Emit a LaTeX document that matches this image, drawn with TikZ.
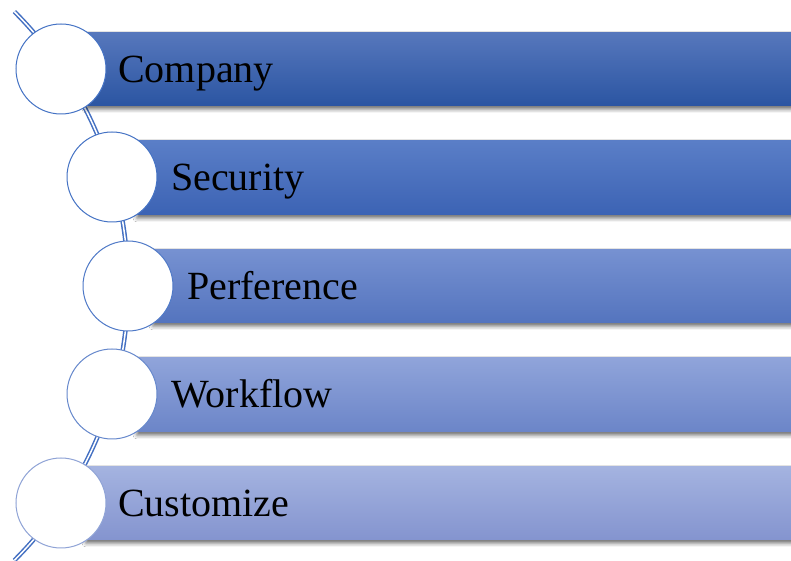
\documentclass[tikz,border=0pt]{standalone}
\usepackage{fontspec}
\setmainfont{Liberation Serif}
\usetikzlibrary{shadows.blur}

\definecolor{rimA}{HTML}{4472C4}
\definecolor{rimE}{HTML}{8FA3D6}
\definecolor{arcblue}{HTML}{4470C2}
\definecolor{t1}{HTML}{5677BC}\definecolor{b1}{HTML}{2B55A2}
\definecolor{t2}{HTML}{5A7EC7}\definecolor{b2}{HTML}{3C63B4}
\definecolor{t3}{HTML}{7691D1}\definecolor{b3}{HTML}{5474BE}
\definecolor{t4}{HTML}{90A4DA}\definecolor{b4}{HTML}{6B85C8}
\definecolor{t5}{HTML}{A4B3E0}\definecolor{b5}{HTML}{8494CF}

\tikzset{
  band/.style={draw=none, blur shadow={shadow xshift=0pt, shadow yshift=-3pt,
      shadow blur radius=4pt, shadow opacity=60}},
  disc/.style={circle, draw=#1, line width=1pt, fill=white, minimum size=90pt, inner sep=0pt},
  label/.style={anchor=base west, inner sep=0pt, font=\fontsize{40}{48}\selectfont, text=black},
  spine/.style={draw=arcblue, line width=1.5pt, double=white, double distance=1.5pt}
}

\begin{document}
\begin{tikzpicture}[x=1pt, y=1pt]
  \useasboundingbox (0,0) rectangle (791,561);
  \fill[white] (0,0) rectangle (791,561);
  \clip (0,0) rectangle (791,561);

  % curved spine running through the circle centres
  \coordinate (spineTop) at ({-260+388*cos(45)},{275+388*sin(45)});
  \draw[spine] (spineTop) arc[start angle=45, end angle=-45, radius=388];

  % gradient bands
  \fill[band, top color=t1, bottom color=b1] (86,455) rectangle (800,528);
  \fill[band, top color=t2, bottom color=b2] (137,346) rectangle (800,420);
  \fill[band, top color=t3, bottom color=b3] (153,238) rectangle (800,311);
  \fill[band, top color=t4, bottom color=b4] (137,129) rectangle (800,203);
  \fill[band, top color=t5, bottom color=b5] (86,21) rectangle (800,94);

  % circles
  \node[disc=rimA] (c1) at (61,492) {};
  \node[disc=rimA] (c2) at (112,384) {};
  \node[disc=rimA!85!rimE] (c3) at (128,275) {};
  \node[disc=rimA!55!rimE] (c4) at (112,167) {};
  \node[disc=rimE] (c5) at (61,58) {};

  % labels
  \node[label] (l1) at (118,478) {Company};
  \node[label] (l2) at (171,370) {Security};
  \node[label] (l3) at (187,261) {Perference};
  \node[label] (l4) at (171,153) {Workflow};
  \node[label] (l5) at (118,44) {Customize};
\end{tikzpicture}
\end{document}
